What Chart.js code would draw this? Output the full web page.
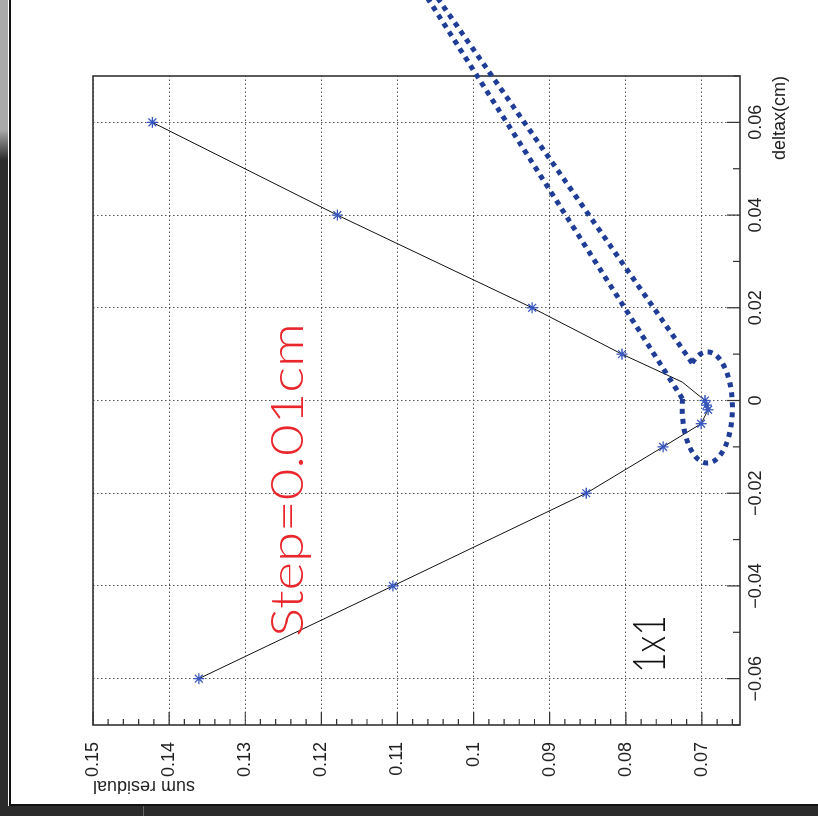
<!DOCTYPE html>
<html>
<head>
<meta charset="utf-8">
<script src="https://cdn.jsdelivr.net/npm/chart.js@4.4.1/dist/chart.umd.min.js"></script>
<style>
    html, body { margin: 0; padding: 0; background: #fff; }
    body { width: 818px; height: 816px; position: relative; overflow: hidden; }
    /* the figure was scanned sideways: draw it upright, then turn it 90deg counter-clockwise */
    #turn { position: absolute; left: 0; top: 0; width: 816px; height: 818px; transform-origin: 0 0; transform: translate(0, 816px) rotate(-90deg); }
    #turn canvas { display: block; }
    .edge { position: absolute; }
    #left-dark { left: 0; top: 0; width: 8px; height: 816px; background: linear-gradient(to bottom, #a9a9a9 0, #a9a9a9 130px, #2b2b2b 160px); }
    #left-line { left: 9px; top: 0; width: 2px; height: 805px; background: #111; }
    #bottom-line { left: 9px; top: 804px; width: 809px; height: 2px; background: #111; }
    #bottom-dark { left: 0; top: 806px; width: 818px; height: 10px; background: #2b2b2b; }
    #bottom-tick { left: 143px; top: 806px; width: 1px; height: 10px; background: #666; }
</style>
</head>
<body>
<div id="turn"><canvas id="chart" width="816" height="818"></canvas></div>
<div class="edge" id="left-dark"></div>
<div class="edge" id="left-line"></div>
<div class="edge" id="bottom-line"></div>
<div class="edge" id="bottom-dark"></div>
<div class="edge" id="bottom-tick"></div>
<script>
// scan of delta x (cm) against the summed residual
const deltaX   = [0.06, 0.04, 0.02, 0.01, 0.004, 0, -0.001, -0.002, -0.005, -0.01, -0.02, -0.04, -0.06];
const residual = [0.1422, 0.1179, 0.0923, 0.0805, 0.0726, 0.0696, 0.0694, 0.0692, 0.0701, 0.0751, 0.0852, 0.1106, 0.1361];
const marked   = [true, true, true, true, false, true, true, true, true, true, true, true, true];

const deltaTicks    = [-0.06, -0.04, -0.02, 0, 0.02, 0.04, 0.06];
const residualTicks = [0.15, 0.14, 0.13, 0.12, 0.11, 0.1, 0.09, 0.08, 0.07];

const xTitle = 'deltax(cm)';
const yTitle = 'sum residual';
const stepNote = 'Step=0.01cm';
const gridNote = '1x1';

const AXIS_FONT = { family: '"Liberation Sans", Arial, sans-serif', size: 18 };
const INK = '#222';
const BLUE = '#1f3d97';

const fmt = v => v === 0 ? '0' : (v < 0 ? '\u2212' : '') + String(Math.abs(v));

// stretch a label so it spans from x0 to x1 (canvas px)
function fitText(ctx, text, x0, x1, y) {
    const w = ctx.measureText(text).width;
    ctx.save();
    ctx.translate(x0, y);
    ctx.scale((x1 - x0) / w, 1);
    ctx.fillText(text, 0, 0);
    ctx.restore();
}

const frame = {
    id: 'frame',
    afterDraw(chart) {
        const { ctx, chartArea: a, scales: { x, y } } = chart;
        ctx.save();

        // box
        ctx.strokeStyle = '#333'; ctx.lineWidth = 1.6;
        ctx.strokeRect(a.left, a.top, a.right - a.left, a.bottom - a.top);

        // inward ticks, majors at labels, minors between
        ctx.lineWidth = 1.2; ctx.beginPath();
        for (let i = -7; i <= 7; i++) {
            const p = x.getPixelForValue(i / 100), len = i % 2 === 0 ? 13 : 7;
            ctx.moveTo(p, a.bottom); ctx.lineTo(p, a.bottom - len);
        }
        for (let i = 66; i <= 150; i += 2) {
            const p = y.getPixelForValue(i / 1000), len = i % 10 === 0 ? 13 : 6;
            ctx.moveTo(a.left, p); ctx.lineTo(a.left + len, p);
        }
        ctx.stroke();

        // dotted callout round the minimum
        const cx = x.getPixelForValue(-0.0015), cy = y.getPixelForValue(0.0693);
        const rx = Math.abs(x.getPixelForValue(-0.0015 + 0.012) - cx);
        const ry = Math.abs(y.getPixelForValue(0.0693 + 0.0033) - cy);
        const s0 = -37 * Math.PI / 180, s1 = 279 * Math.PI / 180;
        ctx.strokeStyle = BLUE; ctx.lineWidth = 5; ctx.setLineDash([5, 5]);
        ctx.beginPath(); ctx.ellipse(cx, cy, rx, ry, 0, s0, s1); ctx.stroke();
        const tails = [[s0, 0.0898, 0.1060], [s1, 0.0898, 0.1072]];
        tails.forEach(([s, dx, r]) => {
            ctx.beginPath();
            ctx.moveTo(cx + rx * Math.cos(s), cy + ry * Math.sin(s));
            ctx.lineTo(x.getPixelForValue(dx), y.getPixelForValue(r));
            ctx.stroke();
        });
        ctx.setLineDash([]);

        // notes
        ctx.textBaseline = 'alphabetic';
        ctx.font = '300 46px Lato, "Noto Sans", sans-serif';
        ctx.fillStyle = '#e8262b';
        fitText(ctx, stepNote, x.getPixelForValue(-0.051), x.getPixelForValue(0.0167), y.getPixelForValue(0.1224));
        ctx.fillStyle = '#111';
        fitText(ctx, gridNote, x.getPixelForValue(-0.0588), x.getPixelForValue(-0.0463), y.getPixelForValue(0.0748));
        ctx.restore();
    }
};

new Chart(document.getElementById('chart'), {
    type: 'scatter',
    data: {
        datasets: [{
            data: deltaX.map((d, i) => ({ x: d, y: residual[i] })),
            showLine: true,
            borderColor: '#111',
            borderWidth: 1,
            pointStyle: 'star',
            pointRadius: ctx => marked[ctx.dataIndex] ? 5.5 : 0,
            pointBorderColor: '#3858bd',
            pointBorderWidth: 1.3,
            pointBackgroundColor: '#3858bd'
        }]
    },
    options: {
        responsive: false,
        animation: false,
        devicePixelRatio: 1,
        layout: { padding: { top: 93, right: 76, left: 0, bottom: 0 } },
        plugins: { legend: { display: false }, tooltip: { enabled: false } },
        scales: {
            x: {
                type: 'linear', position: 'bottom', min: -0.07, max: 0.07,
                afterBuildTicks: s => { s.ticks = deltaTicks.map(v => ({ value: v })); },
                afterFit: s => { s.height = 78; },
                grid: { color: '#555', lineWidth: 1, drawTicks: false },
                border: { display: false, dash: [1.5, 2.5] },
                ticks: { padding: 5, color: INK, font: AXIS_FONT, maxRotation: 0, autoSkip: false, callback: v => fmt(v) },
                title: { display: true, text: xTitle, align: 'end', color: INK, font: AXIS_FONT, padding: { top: 0, bottom: 27 } }
            },
            y: {
                type: 'linear', position: 'left', min: 0.065, max: 0.15,
                afterBuildTicks: s => { s.ticks = residualTicks.map(v => ({ value: v })); },
                afterFit: s => { s.width = 91; },
                grid: { color: '#555', lineWidth: 1, drawTicks: false },
                border: { display: false, dash: [1.5, 2.5] },
                ticks: { padding: 17, color: INK, font: AXIS_FONT, autoSkip: false, callback: v => String(v) },
                title: { display: true, text: yTitle, align: 'end', color: INK, font: AXIS_FONT, padding: { top: 19, bottom: 0 } }
            }
        }
    },
    plugins: [frame]
});
</script>
</body>
</html>
